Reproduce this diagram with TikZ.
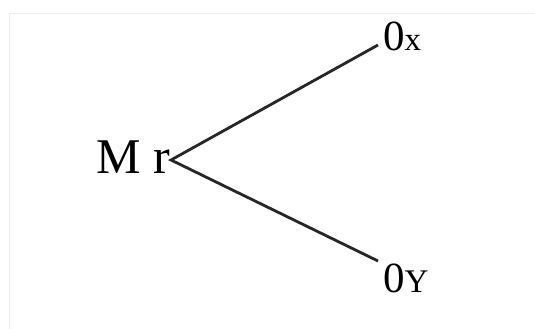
\documentclass[tikz,border=0pt]{standalone}
\usepackage{fontspec}
\setmainfont{Liberation Serif}
\tikzset{
  lbl/.style={inner sep=0pt, outer sep=0pt, font=\fontsize{43}{43}\selectfont},
  big/.style={inner sep=0pt, outer sep=0pt, font=\fontsize{50}{50}\selectfont},
  branch/.style={line width=2.8pt, black!85},
  frame/.style={line width=1pt, black!7}
}
\newcommand{\smallsub}[1]{{\fontsize{33}{33}\selectfont #1}}
\begin{document}
\begin{tikzpicture}[x=1pt,y=-1pt]
\useasboundingbox (0,0) rectangle (535,329);
\fill[white] (0,0) rectangle (535,329);
\draw[frame] (9,329) -- (9,14) -- (535,14);
\node[big, anchor=base east] (mr) at (170,173) {M r};
\node[lbl, anchor=base west] (ox) at (383,51) {0\smallsub{x}};
\node[lbl, anchor=base west] (oy) at (383,292) {0\smallsub{Y}};
\coordinate (v) at (171,160);
\coordinate (ex) at (378,45);
\coordinate (ey) at (378,261);
\draw[branch] (ex) -- (v) -- (ey);
\end{tikzpicture}
\end{document}
